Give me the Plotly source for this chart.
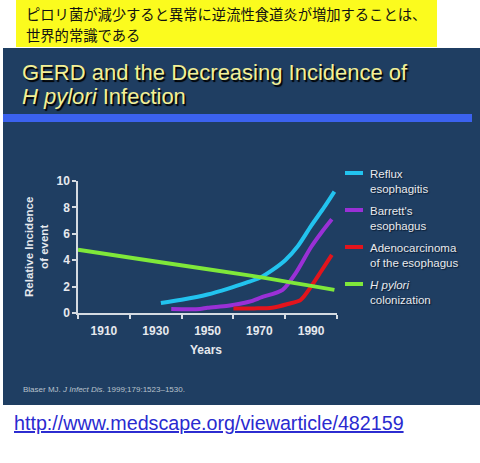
import plotly.graph_objects as go

# ---------------- data ----------------
reflux_years = [1932, 1940, 1950, 1958, 1965, 1970, 1975, 1980, 1985, 1990, 1995, 1999]
reflux_vals = [0.75, 1.0, 1.4, 1.85, 2.3, 2.65, 3.25, 4.0, 5.1, 6.6, 8.0, 9.2]

barrett_years = [1936, 1947, 1950, 1958, 1966, 1971, 1979, 1984, 1990, 1994, 1998]
barrett_vals = [0.3, 0.3, 0.4, 0.55, 0.85, 1.2, 1.75, 3.0, 5.0, 6.1, 7.1]

adeno_years = [1960, 1968, 1975, 1981, 1986, 1990, 1994, 1998]
adeno_vals = [0.35, 0.35, 0.4, 0.68, 1.0, 2.0, 3.2, 4.4]

hp_years = [1900, 1930, 1966, 1999]
hp_vals = [4.8, 3.9, 2.85, 1.75]

series_names = ["Reflux<br>esophagitis", "Barrett's<br>esophagus",
                "Adenocarcinoma<br>of the esophagus", "<i>H pylori</i><br>colonization"]
series_colors = ["#22c3ef", "#9a30d6", "#e3141c", "#7fe83a"]

x_tick_vals = [1910, 1930, 1950, 1970, 1990]
x_minor_ticks = [1900, 1920, 1940, 1960, 1980, 2000]
y_tick_vals = [0, 2, 4, 6, 8, 10]

jp_line1 = "ピロリ菌が減少すると異常に逆流性食道炎が増加することは、"
jp_line2 = "世界的常識である"
title_line1 = "GERD and the Decreasing Incidence of"
title_line2 = "<i>H pylori</i> Infection"
citation = "Blaser MJ. <i>J Infect Dis</i>. 1999;179:1523–1530."
url_text = "http://www.medscape.org/viewarticle/482159"

# ---------------- layout geometry ----------------
W, H = 480, 463
L, R, T, B = 78, 143, 181, 150
PW, PH = W - L - R, H - T - B


def px(x):
    return (x - L) / PW


def py(y):
    return (H - B - y) / PH


fig = go.Figure()

all_x = [reflux_years, barrett_years, adeno_years, hp_years]
all_y = [reflux_vals, barrett_vals, adeno_vals, hp_vals]
for xs, ys, name, col in zip(all_x, all_y, series_names, series_colors):
    fig.add_trace(go.Scatter(x=xs, y=ys, mode="lines", name=name,
                             line=dict(color=col, width=4, shape="spline", smoothing=0.8),
                             showlegend=False, hoverinfo="skip"))

shapes = [
    dict(type="rect", xref="paper", yref="paper", x0=px(16), x1=px(437), y0=py(47), y1=py(0),
         fillcolor="#fbfb1e", line=dict(width=0), layer="below"),
    dict(type="rect", xref="paper", yref="paper", x0=px(3), x1=px(481), y0=py(405), y1=py(48),
         fillcolor="#1f3e62", line=dict(width=0), layer="below"),
    dict(type="rect", xref="paper", yref="paper", x0=px(3), x1=px(472), y0=py(122), y1=py(114),
         fillcolor="#3b62ef", line=dict(width=0), layer="below"),
]

title_font = dict(family="Liberation Sans, Arial", size=22, color="#f3f095",
                  shadow="1.5px 1.5px 1px #000000")
jp_font = dict(family="Noto Sans CJK JP", size=14.3, color="#111111")

annotations = [
    dict(text=jp_line1, x=px(24), y=py(13.5), xanchor="left", yanchor="middle", font=jp_font),
    dict(text=jp_line2, x=px(24), y=py(34.5), xanchor="left", yanchor="middle", font=jp_font),
    dict(text=title_line1, x=px(20), y=py(72), xanchor="left", yanchor="middle", font=title_font),
    dict(text=title_line2, x=px(20), y=py(97), xanchor="left", yanchor="middle", font=title_font),
    dict(text=citation, x=px(21), y=py(389), xanchor="left", yanchor="middle",
         font=dict(family="Liberation Sans, Arial", size=8, color="#b9c2cc")),
    dict(text="<u>" + url_text + "</u>", x=px(12), y=py(423), xanchor="left", yanchor="middle",
         font=dict(family="Liberation Sans, Arial", size=19.7, color="#2a2ad0")),
    dict(text="<b>Years</b>", x=px(206), y=py(350), xanchor="center", yanchor="middle",
         font=dict(family="Liberation Sans, Arial", size=12, color="#e6e9ee")),
    dict(text="<b>Relative Incidence<br>of event</b>", x=px(36), y=py(247), xanchor="center",
         yanchor="middle", textangle=-90,
         font=dict(family="Liberation Sans, Arial", size=11.5, color="#e6e9ee")),
]

# custom legend
leg_first_line = [173, 210, 247, 284]
for name, col, yy in zip(series_names, series_colors, leg_first_line):
    shapes.append(dict(type="line", xref="paper", yref="paper", x0=px(345), x1=px(363),
                       y0=py(yy), y1=py(yy), line=dict(color=col, width=4)))
    annotations.append(dict(text=name, x=px(368), y=py(yy - 7), xanchor="left", yanchor="top",
                            align="left",
                            font=dict(family="Liberation Sans, Arial", size=11.5, color="#e8eaee",
                                      shadow="1px 1px 1px #0a1a30")))

for a in annotations:
    a.setdefault("xref", "paper")
    a.setdefault("yref", "paper")
    a.setdefault("showarrow", False)

axis_col = "#d5dbe2"
fig.update_layout(
    width=W, height=H,
    margin=dict(l=L, r=R, t=T, b=B, autoexpand=False),
    paper_bgcolor="white", plot_bgcolor="rgba(0,0,0,0)",
    shapes=shapes, annotations=annotations, showlegend=False,
    xaxis=dict(range=[1900, 2000], showgrid=False, zeroline=False, showline=True,
               linecolor=axis_col, linewidth=1.5, tickmode="array", tickvals=x_tick_vals,
               ticks="", ticklabelstandoff=6,
               tickfont=dict(family="Liberation Sans, Arial", size=12, color="#e6e9ee", weight="bold"),
               minor=dict(tickmode="array", tickvals=x_minor_ticks, ticks="outside",
                          ticklen=4, tickcolor=axis_col, tickwidth=1.5, showgrid=False)),
    yaxis=dict(range=[0, 10], showgrid=False, zeroline=False, showline=True,
               linecolor=axis_col, linewidth=1.5, tickmode="array", tickvals=y_tick_vals,
               ticks="outside", ticklen=4, tickcolor=axis_col, tickwidth=1.5,
               tickfont=dict(family="Liberation Sans, Arial", size=12, color="#e6e9ee", weight="bold")),
)

fig.write_html("out.html", config={"displayModeBar": False})
